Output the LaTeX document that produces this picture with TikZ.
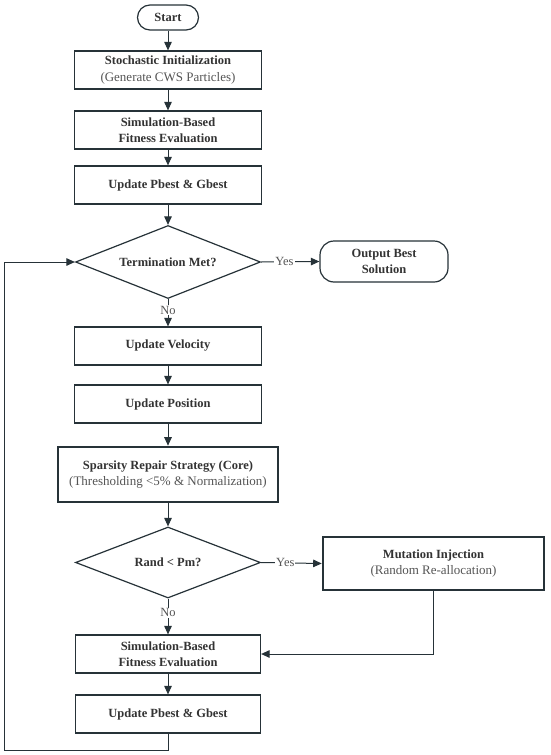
\documentclass[tikz,border=0pt]{standalone}
\usepackage{fontspec}
\setmainfont{Liberation Serif}
\usetikzlibrary{shapes.geometric,arrows.meta}
\definecolor{ln}{HTML}{263238}
\definecolor{tx}{HTML}{333333}
\definecolor{subc}{HTML}{555555}
\begin{document}
\begin{tikzpicture}[x=1pt,y=-1pt,
  font=\fontsize{12.5}{16.5}\selectfont,
  box/.style={draw=ln, line width=1.2pt, fill=white, text=tx, align=center,
    minimum width=187pt, minimum height=38pt, inner sep=2pt, font=\fontsize{12.5}{16.5}\selectfont\bfseries},
  corebox/.style={box, line width=2.6pt},
  dec/.style={diamond, draw=ln, line width=1.2pt, fill=white,
    minimum width=185pt, minimum height=73pt, inner sep=0pt,
    label={[text=tx, font=\fontsize{12.5}{16.5}\selectfont\bfseries]center:#1}},
  term/.style={draw=ln, line width=1.2pt, fill=white, text=tx, align=center,
    inner sep=2pt, font=\fontsize{12.5}{16}\selectfont\bfseries},
  arr/.style={draw=ln, line width=1pt, -{Triangle[length=8.5pt,width=7.5pt]}},
  lbl/.style={fill=white, inner sep=1pt, text=subc, font=\fontsize{12.5}{14}\selectfont}
]
\useasboundingbox (0,0) rectangle (550,755);
\newcommand{\subline}[1]{{\mdseries\fontsize{13}{16.5}\selectfont\color{subc}#1}}
\node[term, rounded corners=12.5pt, minimum width=61pt, minimum height=25pt] (start) at (168,17.5) {Start};
\node[box] (init) at (168,70) {Stochastic Initialization\\\subline{(Generate CWS Particles)}};
\node[box] (sim1) at (168,130) {Simulation-Based\\Fitness Evaluation};
\node[box] (pb1) at (168,185) {Update Pbest \& Gbest};
\node[dec={Termination Met?}] (termq) at (168,262) {};
\node[term, rounded corners=14pt, minimum width=128pt, minimum height=41pt] (out) at (384,261.5) {Output Best\\Solution};
\node[box] (vel) at (168,346) {Update Velocity};
\node[box] (pos) at (168,404) {Update Position};
\node[corebox, minimum width=220pt, minimum height=55pt] (core) at (168,474.5) {Sparsity Repair Strategy (Core)\\\subline{(Thresholding <5\% \& Normalization)}};
\node[dec={Rand < Pm?}, minimum height=71pt] (randq) at (168,562.5) {};
\node[corebox, minimum width=221pt, minimum height=53pt] (mut) at (433.5,563.5) {Mutation Injection\\\subline{(Random Re-allocation)}};
\node[box, minimum width=185pt] (sim2) at (168,654) {Simulation-Based\\Fitness Evaluation};
\node[box, minimum width=185pt] (pb2) at (168,714) {Update Pbest \& Gbest};
\coordinate (loopL) at (4,750);

\draw[arr] (start) -- (init);
\draw[arr] (init) -- (sim1);
\draw[arr] (sim1) -- (pb1);
\draw[arr] (pb1) -- (termq.north);
\draw[arr] (termq.east) -- node[lbl, pos=0.4] {Yes} (out.west);
\draw[arr] (termq.south) -- node[lbl, pos=0.4] {No} (vel.north);
\draw[arr] (vel) -- (pos);
\draw[arr] (pos) -- (core);
\draw[arr] (core) -- (randq.north);
\draw[arr] (randq.east) -- node[lbl, pos=0.4] {Yes} (mut.west);
\draw[arr] (randq.south) -- node[lbl, pos=0.4] {No} (sim2.north);
\draw[arr] (sim2) -- (pb2);
\draw[arr] (mut.south) |- (sim2.east);
\draw[arr] (pb2.south) |- (loopL) |- (termq.west);
\end{tikzpicture}
\end{document}
